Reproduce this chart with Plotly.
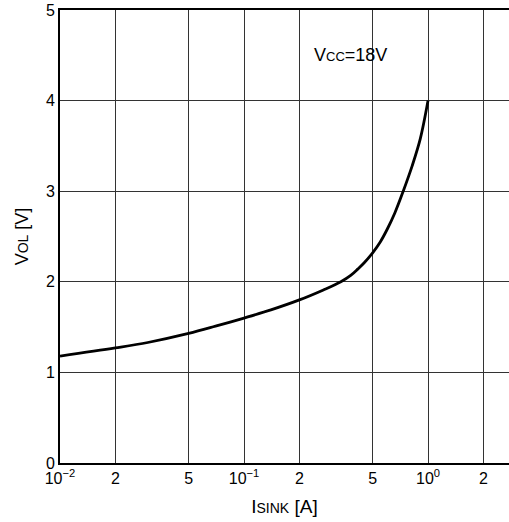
import plotly.graph_objects as go

# curve (sink current [A] vs output low voltage [V])
i_sink = [0.01, 0.02, 0.03, 0.05, 0.07, 0.1, 0.14, 0.2, 0.27, 0.336, 0.38, 0.415, 0.45, 0.5, 0.55, 0.6, 0.66, 0.733, 0.82, 0.908, 1.0]
v_ol = [1.18, 1.27, 1.33, 1.43, 1.51, 1.60, 1.69, 1.80, 1.91, 2.0, 2.07, 2.14, 2.21, 2.32, 2.44, 2.58, 2.76, 3.0, 3.28, 3.58, 4.0]

x_tickvals = [0.01, 0.02, 0.05, 0.1, 0.2, 0.5, 1, 2]
x_ticktext = ["10<sup>−2</sup>", "2", "5", "10<sup>−1</sup>", "2", "5", "10<sup>0</sup>", "2"]
y_tickvals = [0, 1, 2, 3, 4, 5]

font = "Liberation Sans, Arial, sans-serif"

fig = go.Figure()
fig.add_trace(go.Scatter(
    x=i_sink, y=v_ol, mode="lines",
    line=dict(color="black", width=2.8, shape="spline", smoothing=1.0),
    showlegend=False, hoverinfo="skip",
))

fig.add_annotation(
    x=-0.63, y=4.5, xref="x", yref="y", xanchor="left", yanchor="middle",
    text="V<span style='font-size:13px'>CC</span>=18V",
    showarrow=False, font=dict(size=18, color="black"),
)

fig.update_xaxes(
    type="log", range=[-2, 0.44], automargin=False,
    tickvals=x_tickvals, ticktext=x_ticktext,
    showgrid=True, gridcolor="#333", gridwidth=1,
    showline=True, linecolor="black", linewidth=2, mirror=True,
    ticks="", zeroline=False,
    tickfont=dict(size=16, color="black"),
    title=dict(text="I<span style='font-size:14px'>SINK</span> [A]",
               font=dict(size=19, color="black"), standoff=13),
)
fig.update_yaxes(
    range=[0, 5], tickvals=y_tickvals, automargin=False,
    showgrid=True, gridcolor="#333", gridwidth=1,
    showline=True, linecolor="black", linewidth=2, mirror=True,
    ticks="", zeroline=False,
    tickfont=dict(size=16, color="black"),
    title=dict(text="V<span style='font-size:14px'>OL</span> [V]",
               font=dict(size=18, color="black"), standoff=13),
)

fig.update_layout(
    width=509, height=522,
    margin=dict(l=60, r=0, t=10, b=59),
    plot_bgcolor="white", paper_bgcolor="white",
    font=dict(family=font, color="black"),
)

# drop the page's default 8px body margin so the figure sits at the corner
fig.write_html(
    "out.html",
    config={"displayModeBar": False},
    post_script="document.body.style.margin='0';document.body.style.overflow='hidden';",
)
